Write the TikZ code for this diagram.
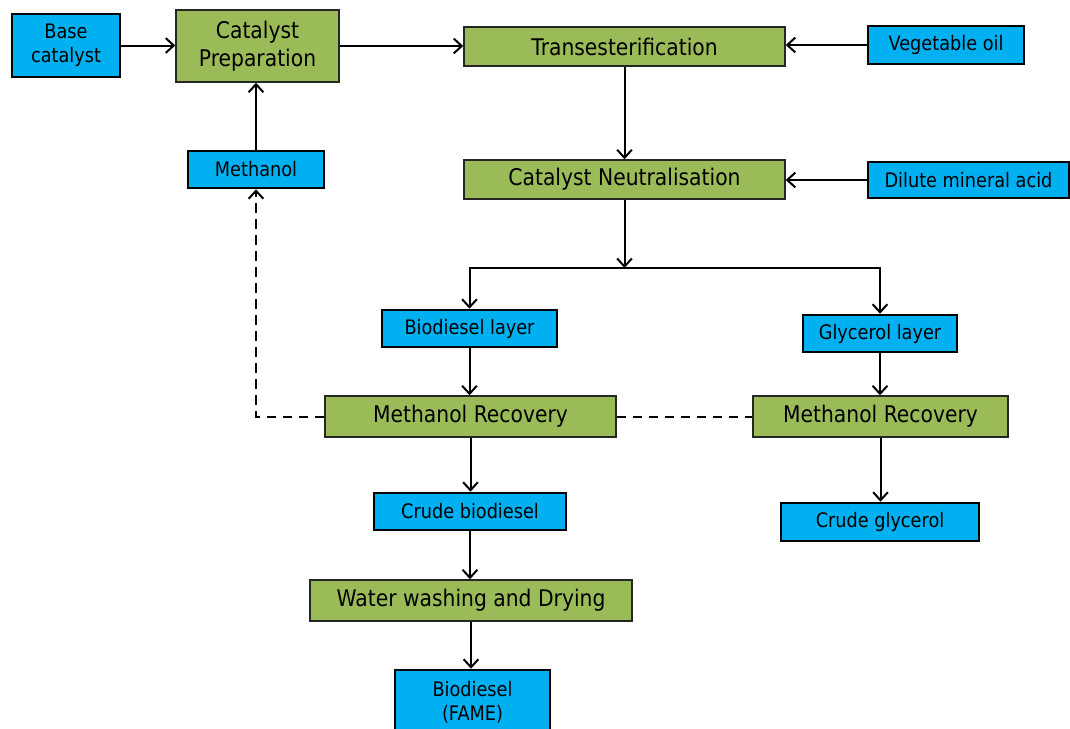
\documentclass[tikz,border=0pt]{standalone}
\usepackage{fontspec}
\setmainfont[FakeStretch=0.885]{DejaVu Sans}
\usetikzlibrary{arrows.meta}
\definecolor{bluebox}{HTML}{00B0F0}
\definecolor{greenbox}{HTML}{9BBB59}
\tikzset{
  sz/.style 2 args={minimum width=#1*0.75pt, minimum height=#2*0.75pt},
  bluenode/.style={draw=black, line width=1.9pt, fill=bluebox, inner sep=0pt, align=center,
    font=\fontsize{15}{17.8}\selectfont},
  greennode/.style={draw=black!85, line width=1.1pt, fill=greenbox, inner sep=0pt, align=center,
    font=\fontsize{17.2}{20.8}\selectfont},
  tipstyle/.style={-{Straight Barb[length=6pt,width=11pt,line width=1.5pt]}},
  arr/.style={line width=1.5pt, tipstyle},
  dashline/.style={line width=1.5pt, dash pattern=on 7pt off 5pt},
}
\begin{document}
\begin{tikzpicture}[x=0.75pt,y=-0.75pt]
\clip (0,0) rectangle (1070,728);
\useasboundingbox (0,0) rectangle (1070,728);
\node[bluenode, sz={108}{63}] (bc) at (66,45.5) {Base\\catalyst};
\node[greennode, sz={163}{72}] (cp) at (257.5,46) {Catalyst\\Preparation};
\node[greennode, sz={321}{39}] (tr) at (624.5,46.5) {Transesterification};
\node[bluenode, sz={156}{38}] (vo) at (946,45) {Vegetable oil};
\node[bluenode, sz={136}{37}] (me) at (256,169.5) {Methanol};
\node[greennode, sz={321}{39}] (cn) at (624.5,179.5) {Catalyst Neutralisation};
\node[bluenode, sz={201}{36}] (dm) at (968.5,180) {Dilute mineral acid};
\node[bluenode, sz={175}{37}] (bl) at (469.5,328.5) {Biodiesel layer};
\node[bluenode, sz={154}{37}] (gl) at (880,333.5) {Glycerol layer};
\node[greennode, sz={291}{41}] (mr1) at (470.5,416.5) {Methanol Recovery};
\node[greennode, sz={255}{41}] (mr2) at (880.5,416.5) {Methanol Recovery};
\node[bluenode, sz={192}{37}] (cb) at (470,511.5) {Crude biodiesel};
\node[bluenode, sz={198}{38}] (cg) at (880,522) {Crude glycerol};
\node[greennode, sz={322}{41}] (ww) at (471,600.5) {Water washing and Drying};
\node[bluenode, sz={155}{64}] (bf) at (472.5,702) {Biodiesel\\(FAME)};
\coordinate (j) at (624.5,268);

\draw[arr] (bc.east) -- (bc.east -| cp.west);
\draw[arr] (cp.east) -- (cp.east -| tr.west);
\draw[arr] (vo.west) -- (vo.west -| tr.east);
\draw[arr] (me.north) -- (me.north |- cp.south);
\draw[arr] (tr.south) -- (cn.north);
\draw[arr] (dm.west) -- (dm.west -| cn.east);
\draw[arr] (cn.south) -- (j);
\draw[arr] (j) -| (bl.north);
\draw[arr] (j) -| (gl.north);
\draw[arr] (bl.south) -- (bl.south |- mr1.north);
\draw[arr] (gl.south) -- (gl.south |- mr2.north);
\draw[arr] (mr1.south) -- (mr1.south |- cb.north);
\draw[arr] (mr2.south) -- (mr2.south |- cg.north);
\draw[arr] (cb.south) -- (cb.south |- ww.north);
\draw[arr] (ww.south) -- (ww.south |- bf.north);
\draw[dashline, tipstyle] (mr1.west) -| (me.south);
\draw[dashline] (mr1.east) -- (mr2.west);
\end{tikzpicture}
\end{document}
